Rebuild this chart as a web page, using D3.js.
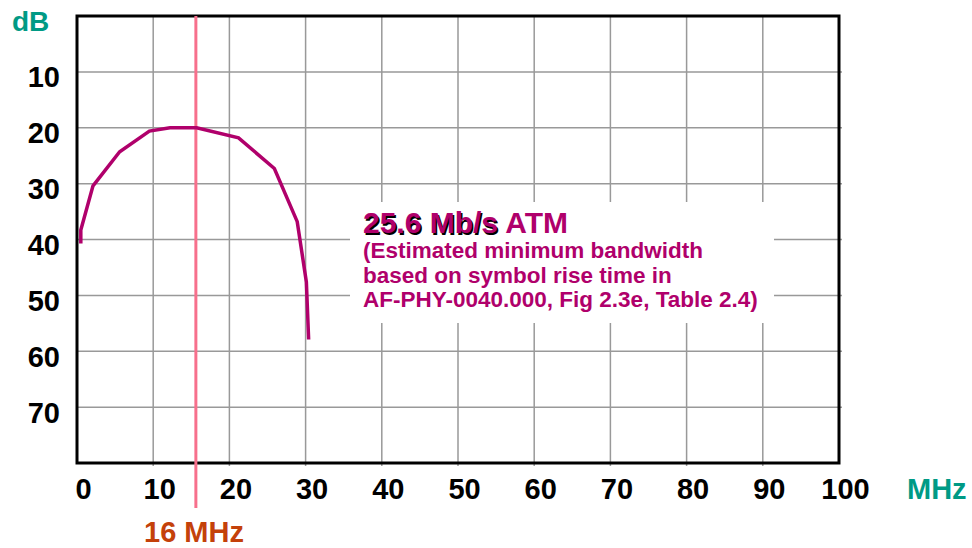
<!DOCTYPE html>
<html>
<head>
<meta charset="utf-8">
<script src="https://cdn.jsdelivr.net/npm/d3@7"></script>
<style>
  body { margin: 0; background: #fff; }
  svg text { font-family: "Liberation Sans", Arial, sans-serif; font-weight: bold; }
</style>
</head>
<body>
<div id="chart"></div>
<script>
// data
const xTicks = [0, 10, 20, 30, 40, 50, 60, 70, 80, 90, 100];
const yTicks = [10, 20, 30, 40, 50, 60, 70];
const freqMHz = [0.5, 0.5, 2.1, 5.6, 9.5, 12.2, 15.7, 21.2, 25.9, 28.9, 30.1, 30.4];
const lossDb = [40.7, 38.3, 30.4, 24.3, 20.6, 20.0, 20.0, 21.8, 27.3, 36.8, 47.6, 57.9];
const markerMHz = 15.6;
const markerLabel = "16 MHz";
const noteLines = [
  "(Estimated minimum bandwidth",
  "based on symbol rise time in",
  "AF-PHY-0040.000, Fig 2.3e, Table 2.4)"
];

const width = 972, height = 548;
const plotLeft = 77, plotTop = 16, plotRight = 839, plotBottom = 463;

const x = d3.scaleLinear().domain([0, 100]).range([plotLeft, plotRight]);
const y = d3.scaleLinear().domain([0, 80]).range([plotTop, plotBottom]);

const svg = d3.select("#chart").append("svg")
    .attr("width", width)
    .attr("height", height);

// grid
svg.append("g").selectAll("line")
    .data(xTicks.filter((d) => d > 0 && d < 100))
    .enter().append("line")
    .attr("x1", (d) => x(d)).attr("x2", (d) => x(d))
    .attr("y1", plotTop).attr("y2", plotBottom + 3)
    .attr("stroke", "#999").attr("stroke-width", 1.5);

svg.append("g").selectAll("line")
    .data(yTicks)
    .enter().append("line")
    .attr("x1", plotLeft).attr("x2", plotRight + 3)
    .attr("y1", (d) => y(d)).attr("y2", (d) => y(d))
    .attr("stroke", "#999").attr("stroke-width", 1.5);

// white box behind the note
svg.append("rect")
    .attr("x", 350).attr("y", 202)
    .attr("width", 424).attr("height", 121)
    .attr("fill", "#fff");

// frame
svg.append("rect")
    .attr("x", plotLeft).attr("y", plotTop)
    .attr("width", plotRight - plotLeft).attr("height", plotBottom - plotTop)
    .attr("fill", "none")
    .attr("stroke", "#000").attr("stroke-width", 3);

// x axis labels
const xAxis = svg.append("g")
    .attr("transform", `translate(6,${plotBottom})`)
    .call(d3.axisBottom(x).tickValues(xTicks).tickSize(0).tickPadding(0));
xAxis.select(".domain").remove();
xAxis.selectAll("text")
    .attr("y", 36).attr("dy", 0)
    .style("font-size", "29px")
    .attr("fill", "#000");

// y axis labels
const yAxis = svg.append("g")
    .attr("transform", "translate(60,0)")
    .call(d3.axisLeft(y).tickValues(yTicks).tickSize(0).tickPadding(0));
yAxis.select(".domain").remove();
yAxis.selectAll("text")
    .attr("x", 0).attr("dy", 15)
    .style("font-size", "29px")
    .attr("fill", "#000");

// unit labels
svg.append("text")
    .attr("x", 12).attr("y", 31)
    .style("font-size", "28px")
    .attr("fill", "#009a85")
    .text("dB");

svg.append("text")
    .attr("x", 907).attr("y", 499)
    .style("font-size", "29px")
    .attr("fill", "#009a85")
    .text("MHz");

// 16 MHz marker
svg.append("line")
    .attr("x1", x(markerMHz)).attr("x2", x(markerMHz))
    .attr("y1", plotTop).attr("y2", 508)
    .attr("stroke", "#f7708c").attr("stroke-width", 3);

svg.append("text")
    .attr("x", 144).attr("y", 542)
    .style("font-size", "29px")
    .attr("fill", "#c4410a")
    .text(markerLabel);

// curve
const line = d3.line()
    .x((d, i) => x(freqMHz[i]))
    .y((d) => y(d));

svg.append("path")
    .datum(lossDb)
    .attr("d", line)
    .attr("fill", "none")
    .attr("stroke", "#b0006b")
    .attr("stroke-width", 3.5);

// note, first part has a dark drop shadow
svg.append("text")
    .attr("x", 364.5).attr("y", 234.5)
    .style("font-size", "30px")
    .attr("fill", "#000")
    .text("25.6 Mb/s");
svg.append("text")
    .attr("x", 363).attr("y", 233)
    .style("font-size", "30px")
    .attr("fill", "#b0006b")
    .text("25.6 Mb/s ATM");

svg.append("g").selectAll("text")
    .data(noteLines)
    .enter().append("text")
    .attr("x", 363)
    .attr("y", (d, i) => 258 + i * 24.5)
    .style("font-size", "22.5px")
    .attr("fill", "#b0006b")
    .text((d) => d);
</script>
</body>
</html>
